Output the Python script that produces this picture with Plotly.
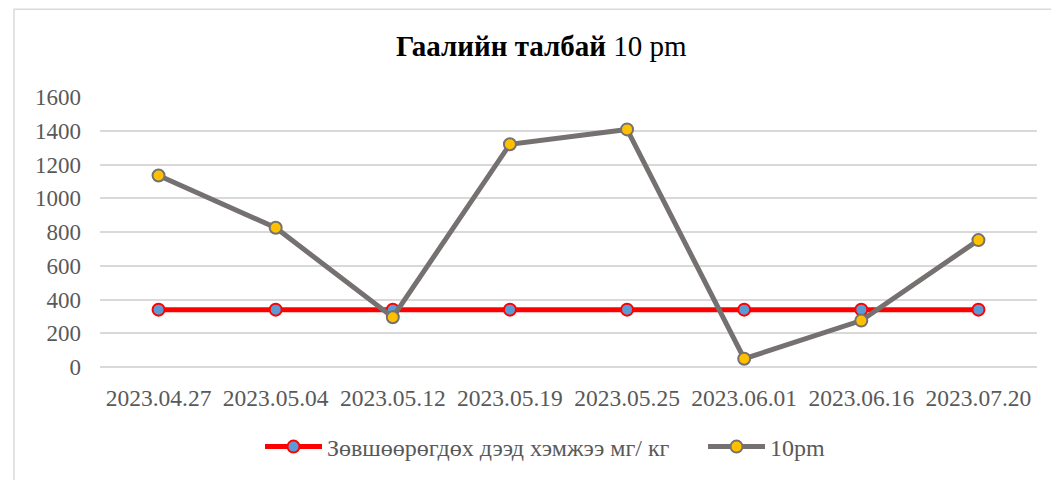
import plotly.graph_objects as go

# chart data
dates = ["2023.04.27", "2023.05.04", "2023.05.12", "2023.05.19",
         "2023.05.25", "2023.06.01", "2023.06.16", "2023.07.20"]
limit_values = [340, 340, 340, 340, 340, 340, 340, 340]
pm10_values = [1135, 825, 295, 1320, 1408, 49, 275, 752]

FONT = "Liberation Serif, Times New Roman, serif"
W, H = 1051, 480
M_L, M_R, M_T, M_B = 100, 14, 97, 112
PLOT_W = W - M_L - M_R
PLOT_H = H - M_T - M_B


def px_x(x):
    return (x - M_L) / PLOT_W


def px_y(y):
    return (H - M_B - y) / PLOT_H


fig = go.Figure()

fig.add_trace(
    go.Scatter(
        x=dates,
        y=limit_values,
        mode="lines+markers",
        name="Зөвшөөрөгдөх дээд хэмжээ мг/ кг",
        line=dict(color="#FF0000", width=5),
        marker=dict(size=12, color="#5B9BD5", line=dict(color="#FF0000", width=2)),
        showlegend=True,
        legend="legend",
    )
)
fig.add_trace(
    go.Scatter(
        x=dates,
        y=pm10_values,
        mode="lines+markers",
        name="10pm",
        line=dict(color="#767171", width=5),
        marker=dict(size=12, color="#FFC000", line=dict(color="#767171", width=2)),
        showlegend=True,
        legend="legend2",
    )
)

legend_font = dict(family=FONT, size=24, color="#595959")

fig.update_layout(
    width=W,
    height=H,
    autosize=False,
    showlegend=True,
    margin=dict(l=M_L, r=M_R, t=M_T, b=M_B),
    paper_bgcolor="white",
    plot_bgcolor="white",
    font=dict(family=FONT, color="#595959", size=23),
    title=dict(
        text="<b>Гаалийн талбай</b> 10 pm",
        x=0.515,
        xref="container",
        xanchor="center",
        y=1 - 46 / H,
        yref="container",
        yanchor="middle",
        font=dict(family=FONT, size=29, color="#000000"),
    ),
    legend=dict(
        visible=True,
        orientation="h",
        x=px_x(260),
        xanchor="left",
        y=px_y(447),
        yanchor="middle",
        font=legend_font,
        itemwidth=57,
    ),
    legend2=dict(
        visible=True,
        orientation="h",
        x=px_x(703),
        xanchor="left",
        y=px_y(447),
        yanchor="middle",
        font=legend_font,
        itemwidth=57,
    ),
    shapes=[
        dict(
            type="rect",
            xref="paper",
            yref="paper",
            x0=px_x(14),
            x1=px_x(W + 10),
            y0=px_y(H + 10),
            y1=px_y(9),
            line=dict(color="#D9D9D9", width=1.5),
            fillcolor="rgba(0,0,0,0)",
            layer="below",
        )
    ],
)

fig.update_xaxes(
    type="category",
    range=[-0.5, len(dates) - 0.5],
    showgrid=False,
    showline=False,
    zeroline=False,
    ticks="",
    ticklabelstandoff=14,
    tickfont=dict(family=FONT, size=23.5, color="#595959"),
    automargin=False,
)
fig.update_yaxes(
    range=[0, 1600],
    dtick=200,
    showgrid=True,
    gridcolor="#D9D9D9",
    gridwidth=1.5,
    zeroline=True,
    zerolinecolor="#D9D9D9",
    zerolinewidth=1.5,
    showline=False,
    ticks="",
    ticklabelstandoff=18,
    tickfont=dict(family=FONT, size=23, color="#595959"),
    automargin=False,
)

# drop the browser's default 8px body margin so the figure sits at the page corner
fig.write_html(
    "out.html",
    config={"displayModeBar": False},
    post_script="document.body.style.margin = '0';",
)
